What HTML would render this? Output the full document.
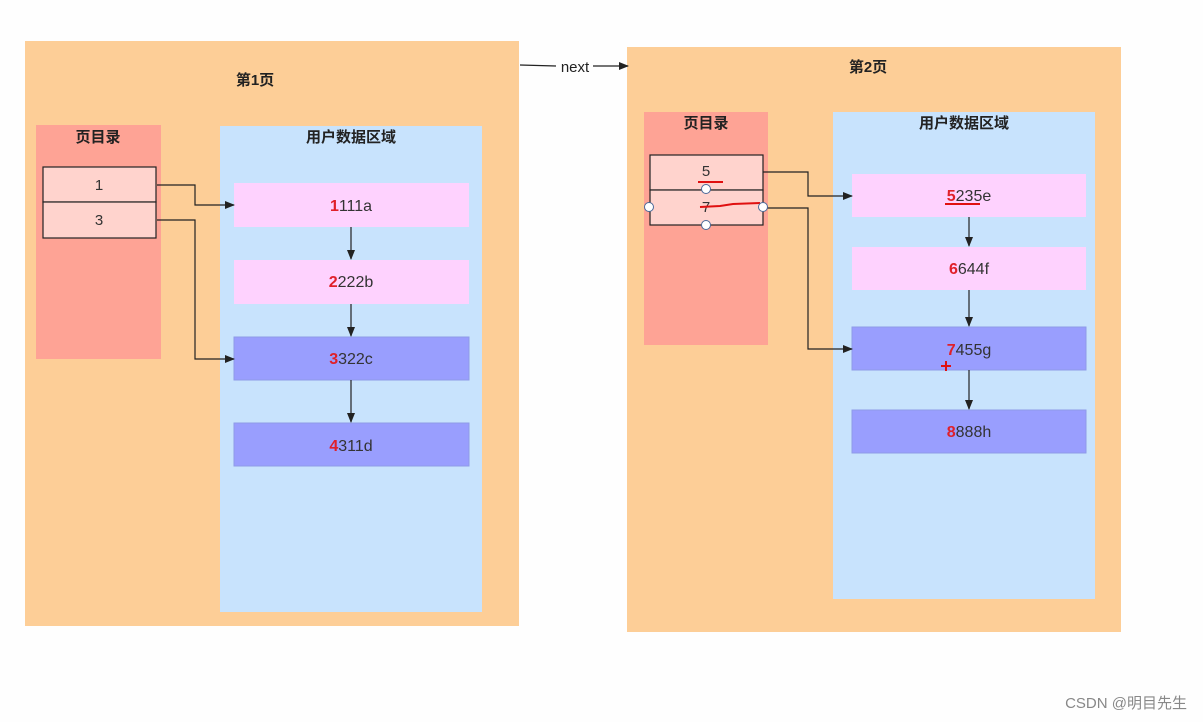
<!DOCTYPE html>
<html><head><meta charset="utf-8"><style>
html,body{margin:0;padding:0;background:#fefefe;width:1203px;height:722px;overflow:hidden}
text{font-family:"Liberation Sans","Noto Sans CJK SC",sans-serif}
</style></head><body>
<svg width="1203" height="722" viewBox="0 0 1203 722" xmlns="http://www.w3.org/2000/svg">
<defs><marker id="a" markerWidth="10" markerHeight="8" refX="9" refY="4" orient="auto" markerUnits="userSpaceOnUse"><path d="M0,0 L10,4 L0,8 Z" fill="#222"/></marker></defs>
<rect x="25" y="41" width="494" height="585" fill="#fdce97"/>
<rect x="627" y="47" width="494" height="585" fill="#fdce97"/>
<text x="255" y="85" font-size="15" font-weight="bold" text-anchor="middle" fill="#222">第1页</text>
<text x="868" y="72" font-size="15" font-weight="bold" text-anchor="middle" fill="#222">第2页</text>
<line x1="520" y1="65" x2="556" y2="66" stroke="#222" stroke-width="1.2"/>
<text x="575" y="72" font-size="15" text-anchor="middle" fill="#222">next</text>
<line x1="593" y1="66" x2="628" y2="66" stroke="#222" stroke-width="1.2" marker-end="url(#a)"/>
<!-- page1 -->
<rect x="36" y="125" width="125" height="234" fill="#fea395"/>
<text x="98" y="142" font-size="15" font-weight="bold" text-anchor="middle" fill="#222">页目录</text>
<rect x="220" y="126" width="262" height="486" fill="#c8e3fd"/>
<text x="351" y="142" font-size="15" font-weight="bold" text-anchor="middle" fill="#222">用户数据区域</text>
<rect x="43" y="167" width="113" height="35" fill="#ffd3cd" stroke="#222" stroke-width="1.2"/>
<rect x="43" y="202" width="113" height="36" fill="#ffd3cd" stroke="#222" stroke-width="1.2"/>
<text x="99" y="190" font-size="15" text-anchor="middle" fill="#333">1</text>
<text x="99" y="225" font-size="15" text-anchor="middle" fill="#333">3</text>
<rect x="234" y="183" width="235" height="44" fill="#fed2fe"/>
<rect x="234" y="260" width="235" height="44" fill="#fed2fe"/>
<rect x="234" y="337" width="235" height="43" fill="#999efe" stroke="#8e9be8"/>
<rect x="234" y="423" width="235" height="43" fill="#999efe" stroke="#8e9be8"/>
<g font-size="16" text-anchor="middle" fill="#333">
<text x="351" y="211"><tspan fill="#e0202a" font-weight="bold">1</tspan>111a</text>
<text x="351" y="287"><tspan fill="#e0202a" font-weight="bold">2</tspan>222b</text>
<text x="351" y="364"><tspan fill="#e0202a" font-weight="bold">3</tspan>322c</text>
<text x="351" y="451"><tspan fill="#e0202a" font-weight="bold">4</tspan>311d</text>
</g>
<g fill="none" stroke="#222" stroke-width="1.2">
<polyline points="157,185 195,185 195,205 234,205" marker-end="url(#a)"/>
<polyline points="157,220 195,220 195,359 234,359" marker-end="url(#a)"/>
<line x1="351" y1="227" x2="351" y2="259" marker-end="url(#a)"/>
<line x1="351" y1="304" x2="351" y2="336" marker-end="url(#a)"/>
<line x1="351" y1="380" x2="351" y2="422" marker-end="url(#a)"/>
</g>
<!-- page2 -->
<rect x="644" y="112" width="124" height="233" fill="#fea395"/>
<text x="706" y="128" font-size="15" font-weight="bold" text-anchor="middle" fill="#222">页目录</text>
<rect x="833" y="112" width="262" height="487" fill="#c8e3fd"/>
<text x="964" y="128" font-size="15" font-weight="bold" text-anchor="middle" fill="#222">用户数据区域</text>
<rect x="650" y="155" width="113" height="35" fill="#ffd3cd" stroke="#222" stroke-width="1.2"/>
<rect x="650" y="190" width="113" height="35" fill="#ffd3cd" stroke="#222" stroke-width="1.2"/>
<text x="706" y="176" font-size="15" text-anchor="middle" fill="#333">5</text>
<text x="706" y="212" font-size="15" text-anchor="middle" fill="#333">7</text>
<rect x="852" y="174" width="234" height="43" fill="#fed2fe"/>
<rect x="852" y="247" width="234" height="43" fill="#fed2fe"/>
<rect x="852" y="327" width="234" height="43" fill="#999efe" stroke="#8e9be8"/>
<rect x="852" y="410" width="234" height="43" fill="#999efe" stroke="#8e9be8"/>
<g font-size="16" text-anchor="middle" fill="#333">
<text x="969" y="201"><tspan fill="#e0202a" font-weight="bold">5</tspan>235e</text>
<text x="969" y="274"><tspan fill="#e0202a" font-weight="bold">6</tspan>644f</text>
<text x="969" y="355"><tspan fill="#e0202a" font-weight="bold">7</tspan>455g</text>
<text x="969" y="437"><tspan fill="#e0202a" font-weight="bold">8</tspan>888h</text>
</g>
<g fill="none" stroke="#222" stroke-width="1.2">
<polyline points="763,172 808,172 808,196 852,196" marker-end="url(#a)"/>
<polyline points="763,208 808,208 808,349 852,349" marker-end="url(#a)"/>
<line x1="969" y1="217" x2="969" y2="246" marker-end="url(#a)"/>
<line x1="969" y1="290" x2="969" y2="326" marker-end="url(#a)"/>
<line x1="969" y1="370" x2="969" y2="409" marker-end="url(#a)"/>
</g>
<g stroke="#e01010" stroke-width="2" fill="none">
<line x1="698" y1="182" x2="723" y2="182"/>
<polyline points="700,207 720,206 733,204 760,203"/>
<line x1="945" y1="204" x2="980" y2="204"/>
<line x1="946" y1="361" x2="946" y2="371"/>
<line x1="941" y1="366" x2="951" y2="366"/>
</g>
<g fill="#fff" stroke="#4a6a9a" stroke-width="1">
<circle cx="706" cy="189" r="4.5"/><circle cx="649" cy="207" r="4.5"/>
<circle cx="763" cy="207" r="4.5"/><circle cx="706" cy="225" r="4.5"/>
</g>
<text x="1187" y="708" font-size="15" text-anchor="end" fill="#888">CSDN @明目先生</text>
</svg>
</body></html>
